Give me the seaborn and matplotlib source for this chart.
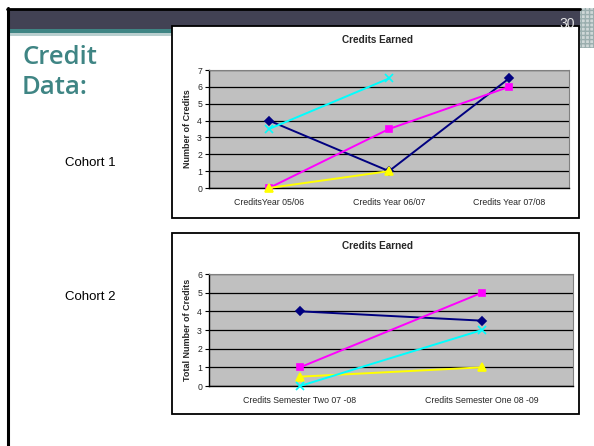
import matplotlib
matplotlib.use("Agg")
import matplotlib.pyplot as plt
from matplotlib.patches import Rectangle
import seaborn as sns
import numpy as np
import pandas as pd

# ---- data ----
cohort1_categories = ["CreditsYear 05/06", "Credits Year 06/07", "Credits Year 07/08"]
cohort1_navy = [4, 1, 6.5]
cohort1_magenta = [0, 3.5, 6]
cohort1_yellow = [0, 1, np.nan]
cohort1_cyan = [3.5, 6.5, np.nan]

cohort2_categories = ["Credits Semester Two 07 -08", "Credits Semester One 08 -09"]
cohort2_navy = [4, 3.5]
cohort2_magenta = [1, 5]
cohort2_yellow = [0.5, 1]
cohort2_cyan = [0, 3]

W, H = 594, 446
sns.set_theme(style="white")
plt.rcParams['font.family'] = ['Liberation Sans', 'DejaVu Sans']

fig = plt.figure(figsize=(W / 100, H / 100), dpi=100)


def px_axes(x0, y0, x1, y1):
    """axes from pixel box (top-left origin)"""
    return fig.add_axes([x0 / W, 1 - y1 / H, (x1 - x0) / W, (y1 - y0) / H])


# ---- slide background ----
bg = fig.add_axes([0, 0, 1, 1])
bg.set_xlim(0, W)
bg.set_ylim(H, 0)
bg.axis("off")
bg.add_patch(Rectangle((7, 9), 573, 21, facecolor="#424254", edgecolor="none"))
bg.add_patch(Rectangle((7, 29), 166, 4, facecolor="#3f8584", edgecolor="none"))
bg.add_patch(Rectangle((7, 33), 166, 3, facecolor="#b9cfcf", edgecolor="none"))
bg.plot([7, 580], [8.5, 8.5], color="black", lw=2)
bg.plot([7.5, 7.5], [8, H], color="black", lw=2.2)
bg.add_patch(Rectangle((580, 8), 14, 40, facecolor="#cfd8d8", edgecolor="#9aaeae",
                       hatch="++++", lw=0))
bg.text(575, 28, "30", color="#e6e6e6", fontsize=10, ha="right", va="baseline")
title_font = ["Open Sans", "DejaVu Sans"]
bg.text(22, 64, "Credit", color="#3f8584", fontsize=18.5, family=title_font,
        fontweight="semibold", ha="left", va="baseline")
bg.text(22, 94, "Data:", color="#3f8584", fontsize=18.5, family=title_font,
        fontweight="semibold", ha="left", va="baseline")
bg.text(90, 163, "Cohort 1", fontsize=9.5, ha="center", va="center", color="black")
bg.text(90, 297, "Cohort 2", fontsize=9.5, ha="center", va="center", color="black")

# chart boxes
for (x0, y0, x1, y1) in [(172, 26, 579, 218), (172, 233, 579, 414)]:
    bg.add_patch(Rectangle((x0, y0), x1 - x0, y1 - y0, facecolor="white",
                           edgecolor="black", lw=1.3))
bg.text(377, 40, "Credits Earned", fontsize=7.2, fontweight="bold", ha="center", va="center")
bg.text(377, 246, "Credits Earned", fontsize=7.2, fontweight="bold", ha="center", va="center")

series_style = [("#000080", "D", 4.5), ("#ff00ff", "s", 5), ("#ffff00", "^", 5.5), ("#00ffff", "x", 6)]


def draw_chart(ax, categories, series, ymax, ylabel):
    x = np.arange(len(categories))
    for vals, (color, marker, ms) in zip(series, series_style):
        df = pd.DataFrame({"x": x, "y": vals}).dropna()
        sns.lineplot(data=df, x="x", y="y", ax=ax, color=color, marker=marker,
                     markersize=ms, markeredgecolor=color, markeredgewidth=1.2,
                     linewidth=1.4, clip_on=False, zorder=3)
    ax.set_facecolor("#c0c0c0")
    ax.set_xlim(-0.5, len(categories) - 0.5)
    ax.set_ylim(0, ymax)
    ax.set_yticks(range(ymax + 1))
    ax.yaxis.grid(True, color="black", lw=0.9)
    ax.set_axisbelow(True)
    ax.set_xticks(x)
    ax.set_xticklabels(categories, fontsize=6.3)
    ax.set_xticks(np.arange(len(categories) + 1) - 0.5, minor=True)
    ax.tick_params(axis="x", which="major", length=0, pad=7)
    ax.tick_params(axis="x", which="minor", length=3, width=0.8, color="black", direction="out")
    ax.tick_params(axis="y", length=3, width=0.8, color="black", direction="out",
                   labelsize=6.3, pad=2, left=True)
    ax.set_xlabel("")
    ax.set_ylabel(ylabel, fontsize=6.5, fontweight="bold", labelpad=4)
    for side in ["top", "right"]:
        ax.spines[side].set_color("#808080")
        ax.spines[side].set_linewidth(0.8)
    for side in ["left", "bottom"]:
        ax.spines[side].set_color("black")
        ax.spines[side].set_linewidth(1)


ax1 = px_axes(209, 70, 569, 188)
draw_chart(ax1, cohort1_categories,
           [cohort1_navy, cohort1_magenta, cohort1_yellow, cohort1_cyan], 7, "Number of Credits")

ax2 = px_axes(209, 274, 573, 386)
draw_chart(ax2, cohort2_categories,
           [cohort2_navy, cohort2_magenta, cohort2_yellow, cohort2_cyan], 6, "Total Number of Credits")

fig.savefig("out.png", dpi=100)
